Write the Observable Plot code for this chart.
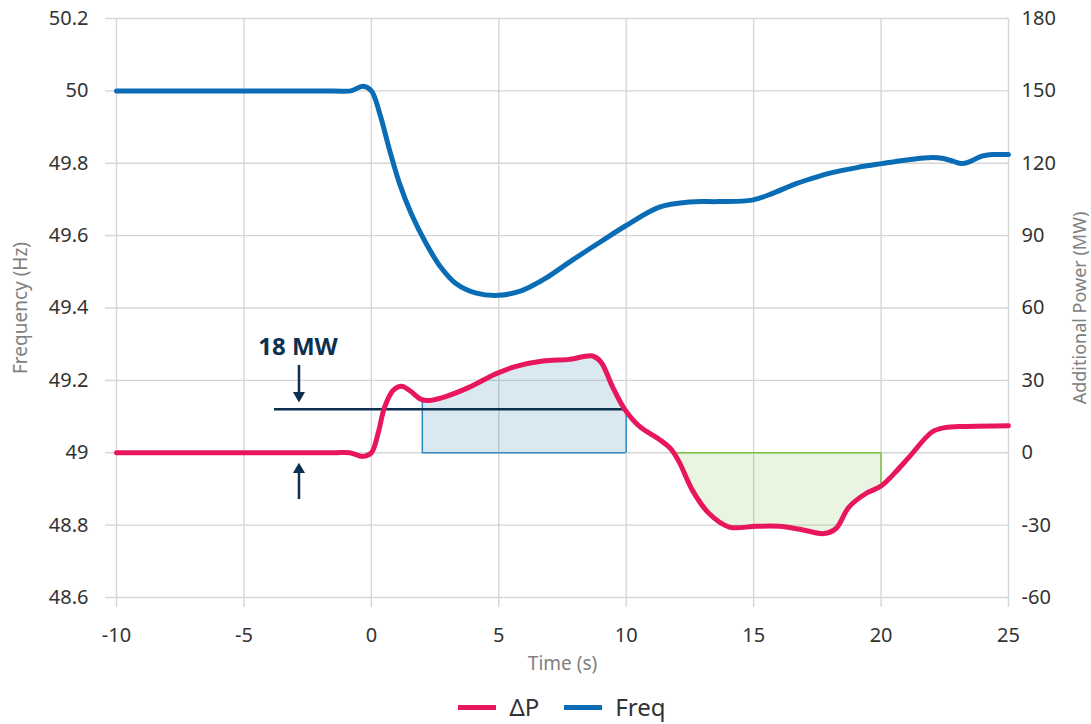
<!DOCTYPE html>
<html>
<head>
<meta charset="utf-8">
<script src="https://cdn.jsdelivr.net/npm/d3@7"></script>
<script src="https://cdn.jsdelivr.net/npm/@observablehq/plot@0.6"></script>
<style>
  html, body { margin: 0; padding: 0; background: #fff; }
  #legend { display: flex; justify-content: center; align-items: center; height: 34px;
    padding-left: 33px; font-family: 'Noto Sans', sans-serif; font-size: 24px; color: #333; line-height: 34px; }
  #legend .item { display: flex; align-items: center; }
  #legend .sw { display: inline-block; width: 38px; height: 5px; margin-right: 13px; }
</style>
</head>
<body>
<div id="chart"></div>
<div id="legend"></div>
<script>
// ---- Data ----
const timeTicks = [-10, -5, 0, 5, 10, 15, 20, 25];
const freqTicks = [48.6, 48.8, 49, 49.2, 49.4, 49.6, 49.8, 50, 50.2];
const powerTicks = [-60, -30, 0, 30, 60, 90, 120, 150, 180];

// Frequency (Hz)
const freqTime = [-10, -1.5, -0.8, -0.33, 0, 0.33, 0.72, 1.11, 1.57, 2.16, 2.68, 3.33, 4.12, 5.0, 5.81, 6.33, 6.86, 7.9, 8.95, 10.0, 11.3, 12.47, 13.65, 14.94, 15.72, 16.5, 17.29, 18.07, 19.05, 20.03, 21.0, 22.0, 22.45, 22.85, 23.16, 23.5, 23.93, 24.4, 25];
const freqValue = [50, 50, 50, 50.013, 50.0, 49.937, 49.835, 49.743, 49.66, 49.577, 49.517, 49.467, 49.441, 49.435, 49.446, 49.462, 49.483, 49.533, 49.581, 49.628, 49.679, 49.693, 49.694, 49.698, 49.716, 49.739, 49.758, 49.774, 49.788, 49.799, 49.809, 49.816, 49.813, 49.805, 49.799, 49.805, 49.819, 49.824, 49.824];

// Additional power ΔP (MW)
const powerTime = [-10, -1.5, -0.85, -0.33, 0, 0.26, 0.52, 0.85, 1.18, 1.5, 1.96, 2.29, 2.94, 3.85, 4.9, 5.68, 6.73, 7.77, 8.68, 9.01, 9.47, 9.93, 10.51, 11.3, 11.75, 12.08, 12.6, 13.25, 14.04, 15.08, 16.0, 16.9, 17.76, 18.22, 18.74, 19.39, 20.0, 20.57, 21.1, 22.0, 22.5, 23.3, 25];
const powerValue = [0, 0, 0, -1.5, 0, 7.9, 18.9, 25.8, 27.6, 25.8, 22.1, 21.7, 23.4, 27.2, 32.8, 35.8, 38.0, 38.7, 40.1, 37.6, 27.2, 18.2, 11.0, 5.5, 1.6, -3.9, -15.6, -25.2, -30.8, -30.5, -30.5, -31.9, -33.5, -31.5, -22.5, -17.0, -13.8, -8.0, -1.8, 8.6, 10.4, 10.9, 11.2];

// Shaded windows (s)
const surplusWindow = [2, 10];
const deficitWindow = [11.9, 20];

// Annotation: 18 MW reference
const refLine = [{p: 18, from: -3.8, to: 10}];
const arrows = [{t: -2.84, from: 36.2, to: 21, dir: "down"}, {t: -2.84, from: -19.4, to: -4.3, dir: "up"}];
const annotLabels = [{t: -2.88, p: 43.6, text: "18 MW"}];

const legendItems = [{name: "ΔP", color: "#e8175d"}, {name: "Freq", color: "#0a6cb4"}];

// ---- Helpers ----
const P2F = p => 49 + p / 150;   // MW -> Hz on shared axis (0 MW = 49 Hz, 30 MW = 0.2 Hz)
const freqData = freqTime.map((t, i) => ({t, f: freqValue[i]}));
const powerData = powerTime.map((t, i) => ({t, p: powerValue[i]}));
function interp(x) {
  for (let i = 0; i < powerTime.length - 1; i++) {
    const a = powerTime[i], b = powerTime[i + 1];
    if (x >= a && x <= b) return powerValue[i] + (powerValue[i + 1] - powerValue[i]) * (x - a) / (b - a);
  }
  return 0;
}
function windowed([a, b]) {
  return [{t: a, p: interp(a)}, ...powerData.filter(d => d.t > a && d.t < b), {t: b, p: interp(b)}];
}
const surplus = windowed(surplusWindow);
const deficit = windowed(deficitWindow);

const gridColor = "#d6d6d6";
const navy = "#0d3050";
const font = "'Noto Sans', sans-serif";

const chart = Plot.plot({
  width: 1091, height: 690,
  marginLeft: 116, marginRight: 83, marginTop: 18, marginBottom: 93,
  style: {fontFamily: font, fontSize: "20px", color: "#333", background: "#fff", overflow: "visible"},
  x: {domain: [-10, 25]},
  y: {domain: [48.6, 50.2]},
  marks: [
    Plot.gridX(timeTicks, {stroke: gridColor, strokeOpacity: 1, strokeWidth: 1.4}),
    Plot.gridY(freqTicks, {stroke: gridColor, strokeOpacity: 1, strokeWidth: 1.4}),
    Plot.axisX(timeTicks, {anchor: "bottom", tickSize: 10, tickPadding: 20, stroke: gridColor, strokeWidth: 1.4, fill: "#333", tickFormat: d => String(d), label: null}),
    Plot.axisY(freqTicks, {anchor: "left", tickSize: 11, tickPadding: 17, stroke: gridColor, strokeWidth: 1.4, fill: "#333", tickFormat: d => String(+d.toFixed(1)), label: null}),
    Plot.axisY(powerTicks.map(P2F), {anchor: "right", tickSize: 0, tickPadding: 13, fill: "#333", tickFormat: f => String(Math.round((f - 49) * 150)), label: null}),
    // axis titles
    Plot.text(["Frequency (Hz)"], {frameAnchor: "left", textAnchor: "middle", dx: -96, rotate: -90, fill: "#808080", fontSize: 19}),
    Plot.text(["Additional Power (MW)"], {frameAnchor: "right", textAnchor: "middle", dx: 72, rotate: -90, fill: "#808080", fontSize: 18}),
    Plot.text(["Time (s)"], {frameAnchor: "bottom", dy: 72, fill: "#808080", fontSize: 19}),
    // shaded areas
    Plot.areaY(surplus, {x: "t", y1: P2F(0), y2: d => P2F(d.p), fill: "rgb(0,104,160)", fillOpacity: 0.15, curve: "catmull-rom"}),
    Plot.areaY(deficit, {x: "t", y1: P2F(0), y2: d => P2F(d.p), fill: "rgb(120,190,60)", fillOpacity: 0.16, curve: "catmull-rom"}),
    Plot.ruleY([0], {y: d => P2F(d), x1: surplusWindow[0], x2: surplusWindow[1], stroke: "#2e8bc0", strokeWidth: 1.5}),
    Plot.ruleX(surplusWindow, {x: d => d, y1: P2F(0), y2: d => P2F(interp(d)), stroke: "#2e8bc0", strokeWidth: 1.5}),
    Plot.ruleY([0], {y: d => P2F(d), x1: deficitWindow[0], x2: deficitWindow[1], stroke: "#7dc242", strokeWidth: 1.5}),
    Plot.ruleX([deficitWindow[1]], {x: d => d, y1: P2F(0), y2: d => P2F(interp(d)), stroke: "#7dc242", strokeWidth: 1.5}),
    // 18 MW annotation
    Plot.ruleY(refLine, {y: d => P2F(d.p), x1: "from", x2: "to", stroke: navy, strokeWidth: 2.5}),
    Plot.ruleX(arrows, {x: "t", y1: d => P2F(d.from), y2: d => P2F(d.to + (d.dir === "down" ? 3 : -3)), stroke: navy, strokeWidth: 2.5}),
    Plot.dot(arrows.filter(d => d.dir === "down"), {x: "t", y: d => P2F(d.to), symbol: "triangle", rotate: 180, r: 4.5, fill: navy, stroke: null, dy: -6.5}),
    Plot.dot(arrows.filter(d => d.dir === "up"), {x: "t", y: d => P2F(d.to), symbol: "triangle", r: 4.5, fill: navy, stroke: null, dy: 6.5}),
    Plot.text(annotLabels, {x: "t", y: d => P2F(d.p), text: "text", fill: navy, fontSize: 24, fontWeight: "bold"}),
    // series
    Plot.line(powerData, {x: "t", y: d => P2F(d.p), stroke: legendItems[0].color, strokeWidth: 5, curve: "catmull-rom"}),
    Plot.line(freqData, {x: "t", y: "f", stroke: legendItems[1].color, strokeWidth: 5, curve: "catmull-rom"})
  ]
});
document.getElementById("chart").appendChild(chart);

const legend = document.getElementById("legend");
legendItems.forEach((it, i) => {
  const item = document.createElement("span");
  item.className = "item";
  if (i > 0) item.style.marginLeft = "25px";
  const sw = document.createElement("span");
  sw.className = "sw";
  sw.style.background = it.color;
  item.appendChild(sw);
  item.appendChild(document.createTextNode(it.name));
  legend.appendChild(item);
});
</script>
</body>
</html>
